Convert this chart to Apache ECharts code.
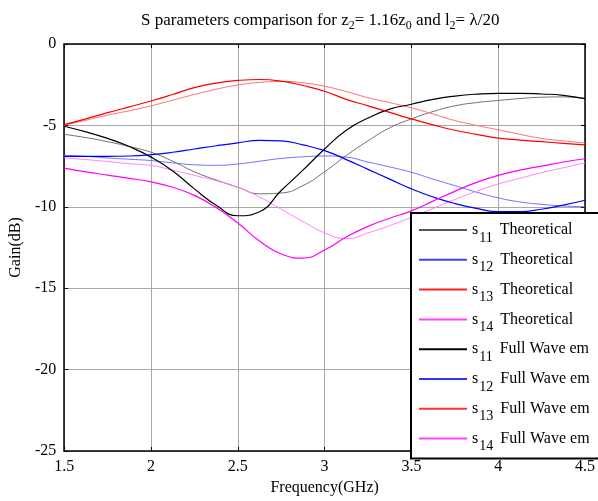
<!DOCTYPE html>
<html><head><meta charset="utf-8">
<script src="https://cdn.jsdelivr.net/npm/echarts@6/dist/echarts.min.js"></script>
<style>html,body{margin:0;padding:0;background:#fff}#c{width:598px;height:501px}</style>
</head><body><div id="c"></div>
<script>
const freq = [1.5,1.625,1.75,1.875,2.0,2.125,2.25,2.375,2.5,2.625,2.75,2.875,3.0,3.125,3.25,3.375,3.5,3.625,3.75,3.875,4.0,4.125,4.25,4.375,4.5];
const s11Theo = [-5.05,-5.4,-5.8,-6.3,-6.95,-7.8,-8.9,-9.9,-10.55,-10.3,-9.0,-7.75,-6.45,-5.3,-4.55,-4.0,-3.7,-3.4,-3.2,-3.08,-3.03,-3.03,-3.07,-3.15,-3.35];
const s12Theo = [-6.9,-6.9,-6.9,-6.88,-6.8,-6.65,-6.45,-6.25,-6.07,-5.92,-5.95,-6.2,-6.55,-7.1,-7.7,-8.3,-8.9,-9.4,-9.8,-10.1,-10.3,-10.3,-10.15,-9.9,-9.6];
const s13Theo = [-4.95,-4.6,-4.22,-3.86,-3.5,-3.1,-2.68,-2.4,-2.24,-2.18,-2.28,-2.55,-2.9,-3.4,-3.8,-4.2,-4.6,-4.97,-5.3,-5.55,-5.78,-5.9,-6.0,-6.1,-6.2];
const s14Theo = [-7.62,-7.85,-8.05,-8.25,-8.47,-8.8,-9.3,-10.05,-11.0,-12.1,-12.9,-13.15,-12.65,-11.85,-11.2,-10.7,-10.25,-9.65,-9.05,-8.5,-8.07,-7.75,-7.5,-7.25,-7.05];
const s11Full = [-5.55,-5.75,-6.0,-6.3,-6.65,-7.2,-7.85,-8.35,-8.8,-9.2,-9.15,-8.7,-7.85,-6.85,-5.95,-5.15,-4.6,-4.15,-3.8,-3.6,-3.47,-3.35,-3.27,-3.25,-3.35];
const s12Full = [-6.85,-6.9,-7.0,-7.08,-7.16,-7.3,-7.42,-7.45,-7.37,-7.2,-7.03,-6.93,-6.88,-6.95,-7.25,-7.55,-7.88,-8.3,-8.7,-9.1,-9.45,-9.7,-9.85,-9.95,-10.0];
const s13Full = [-5.0,-4.68,-4.37,-4.1,-3.8,-3.45,-3.1,-2.78,-2.52,-2.36,-2.3,-2.38,-2.6,-2.92,-3.3,-3.6,-3.92,-4.3,-4.7,-5.0,-5.27,-5.55,-5.8,-5.95,-6.08];
const s14Full = [-7.0,-7.1,-7.22,-7.35,-7.46,-7.75,-8.07,-8.4,-8.8,-9.4,-10.15,-10.9,-11.6,-11.95,-11.6,-11.15,-10.65,-10.1,-9.55,-9.05,-8.6,-8.25,-7.9,-7.6,-7.3];
const seriesNames = ['s11 Theoretical','s12 Theoretical','s13 Theoretical','s14 Theoretical','s11 Full Wave em','s12 Full Wave em','s13 Full Wave em','s14 Full Wave em'];
const xTicks = {min:1.5, max:4.5, step:0.5};
const yTicks = {min:-25, max:0, step:5};

const FONT = "'Liberation Serif','Times New Roman',serif";
const seriesData = [s11Theo,s12Theo,s13Theo,s14Theo,s11Full,s12Full,s13Full,s14Full];
const colors = ['#000000','#0000ff','#ff0000','#ff00ff','#707070','#7070ff','#ff7070','#ff80ff'];
const legendColors = ['#555555','#4040ff','#ff2020','#ff40ff','#000000','#3030ff','#ff3030','#ff40ff'];
const widths = [1.2,1.2,1.2,1.2,1,1,1,1];

const chart = echarts.init(document.getElementById('c'), null, {renderer:'canvas'});
const axisCommon = {
  type:'value',
  axisLine:{show:true,onZero:false,lineStyle:{color:'#000',width:1.5}},
  axisTick:{show:true,inside:true,length:4,lineStyle:{color:'#000',width:1}},
  splitLine:{show:false}
};
chart.setOption({
  animation:false,
  backgroundColor:'#fff',
  title:{
    text:'S parameters comparison for z{sub|2}= 1.16z{sub|0} and l{sub|2}= λ/20',
    left:141, top:12, padding:0,
    textStyle:{fontFamily:FONT,fontSize:17,fontWeight:'normal',color:'#000',
      rich:{sub:{fontFamily:FONT,fontSize:12,color:'#000',lineHeight:17,padding:[11,0,0,0]}}}
  },
  grid:{left:63,right:13,top:44,bottom:46,show:false},
  legend:{
    orient:'vertical', left:411, top:213,
    padding:[2,20,5,8], itemGap:-0.2, itemWidth:48, itemHeight:2,
    icon:'rect',
    borderColor:'#000', borderWidth:2, backgroundColor:'#fff', borderRadius:0,
    selectedMode:false,
    data:seriesNames.map(function(n,i){return {name:n, icon:'rect', itemStyle:{color:legendColors[i]}};}),
    formatter:function(name){
      const m = name.match(/^s(\d+) (.*)$/);
      return '{s|s}{sub|'+m[1]+'}{t| '+m[2]+'}';
    },
    textStyle:{fontFamily:FONT,fontSize:16,color:'#000',
      rich:{
        s:{fontFamily:FONT,fontSize:16,color:'#000',lineHeight:16},
        sub:{fontFamily:FONT,fontSize:14,color:'#000',lineHeight:16,padding:[16,0,0,1]},
        t:{fontFamily:FONT,fontSize:16,color:'#000',lineHeight:16,padding:[0,0,0,3]}
      }}
  },
  xAxis:[
    Object.assign({}, axisCommon, {
      min:xTicks.min, max:xTicks.max, interval:xTicks.step, position:'bottom',
      axisLabel:{color:'#000',fontSize:16,fontFamily:FONT,margin:8},
      splitLine:{show:true,lineStyle:{color:'#a8a8a8',width:1}},
      name:'Frequency(GHz)', nameLocation:'middle', nameGap:29,
      nameTextStyle:{fontFamily:FONT,fontSize:16,color:'#000'}
    }),
    Object.assign({}, axisCommon, {
      min:xTicks.min, max:xTicks.max, interval:xTicks.step, position:'top',
      axisLabel:{show:false}
    })
  ],
  yAxis:[
    Object.assign({}, axisCommon, {
      min:yTicks.min, max:yTicks.max, interval:yTicks.step, position:'left',
      axisLabel:{color:'#000',fontSize:16,fontFamily:FONT,margin:8,padding:[6,0,0,0]},
      splitLine:{show:true,lineStyle:{color:'#a8a8a8',width:1}},
      name:'Gain(dB)', nameLocation:'middle', nameGap:31,
      nameTextStyle:{fontFamily:FONT,fontSize:16,color:'#000'}
    }),
    Object.assign({}, axisCommon, {
      min:yTicks.min, max:yTicks.max, interval:yTicks.step, position:'right',
      axisLabel:{show:false}
    })
  ],
  series: seriesNames.map(function(n,i){
    return {
      name:n, type:'line', smooth:true, symbol:'none', showSymbol:false,
      xAxisIndex:0, yAxisIndex:0,
      color:colors[i],
      lineStyle:{color:colors[i],width:widths[i]},
      z: i<4 ? 3 : 2,
      data: freq.map(function(f,k){return [f, seriesData[i][k]];})
    };
  })
});
</script></body></html>
